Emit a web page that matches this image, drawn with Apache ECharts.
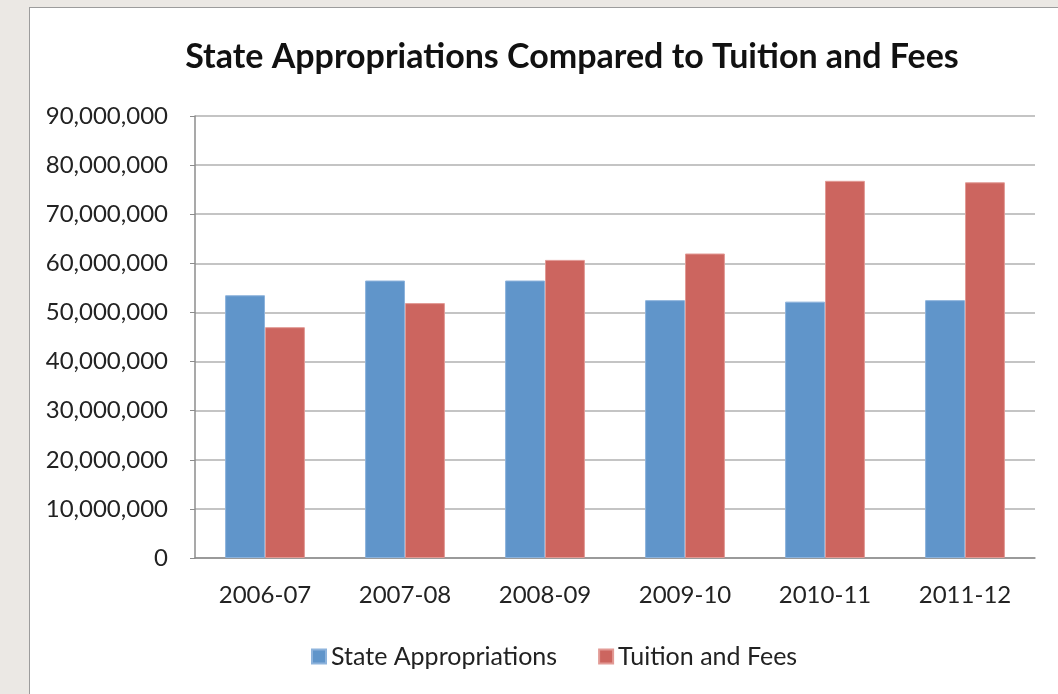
<!DOCTYPE html>
<html>
<head>
<meta charset="utf-8">
<script src="https://cdn.jsdelivr.net/npm/echarts@6/dist/echarts.min.js"></script>
<style>
  html, body { margin: 0; padding: 0; width: 1058px; height: 694px; overflow: hidden; background: #ebe8e4; }
  #panel { position: absolute; left: 29px; top: 7px; width: 1100px; height: 760px; background: #fff; border: 1px solid #9c9c9c; }
  #chart { position: absolute; left: 0; top: 0; width: 1058px; height: 694px; }
</style>
</head>
<body>
<div id="panel"></div>
<div id="chart"></div>
<script>
// Fiscal years
const years = ['2006-07', '2007-08', '2008-09', '2009-10', '2010-11', '2011-12'];
// Dollars
const stateAppropriations = [53500000, 56500000, 56500000, 52500000, 52200000, 52500000];
const tuitionAndFees = [47000000, 51900000, 60700000, 62000000, 76800000, 76500000];
const seriesNames = ['State Appropriations', 'Tuition and Fees'];

const fontFamily = 'Lato, "Open Sans", sans-serif';
const chart = echarts.init(document.getElementById('chart'), null, { renderer: 'canvas' });

chart.setOption({
  backgroundColor: 'transparent',
  animation: false,
  title: {
    text: 'State Appropriations Compared to Tuition and Fees',
    left: 567,
    textAlign: 'center',
    top: 35,
    textStyle: { fontFamily, fontSize: 34, fontWeight: 'bold', color: '#111' }
  },
  legend: {
    data: seriesNames,
    left: 306,
    top: 639,
    itemWidth: 14,
    itemHeight: 14,
    itemGap: 41,
    icon: 'rect',
    textStyle: { fontFamily, fontSize: 25, color: '#222' }
  },
  grid: { left: 195, right: 23, top: 116, bottom: 136, containLabel: false },
  xAxis: {
    type: 'category',
    data: years,
    axisLine: { show: true, lineStyle: { color: '#8c8c8c', width: 1.5 } },
    axisTick: { show: false },
    axisLabel: { fontFamily, fontSize: 24, color: '#222', margin: 25 }
  },
  yAxis: {
    type: 'value',
    min: 0,
    max: 90000000,
    interval: 10000000,
    axisLine: { show: true, lineStyle: { color: '#8c8c8c', width: 1.5 } },
    axisTick: { show: true, length: 5, lineStyle: { color: '#8c8c8c' } },
    splitLine: { show: true, lineStyle: { color: '#b0b0b0', width: 1.5 } },
    axisLabel: {
      fontFamily, fontSize: 24, color: '#222', margin: 27,
      formatter: v => v.toLocaleString('en-US')
    }
  },
  series: [
    {
      name: seriesNames[0],
      type: 'bar',
      data: stateAppropriations,
      barGap: '0%',
      barCategoryGap: '43%',
      itemStyle: { color: '#6095ca', borderColor: '#8db3dc', borderWidth: 1 }
    },
    {
      name: seriesNames[1],
      type: 'bar',
      data: tuitionAndFees,
      itemStyle: { color: '#cc655f', borderColor: '#e29a95', borderWidth: 1 }
    }
  ]
});
</script>
</body>
</html>
